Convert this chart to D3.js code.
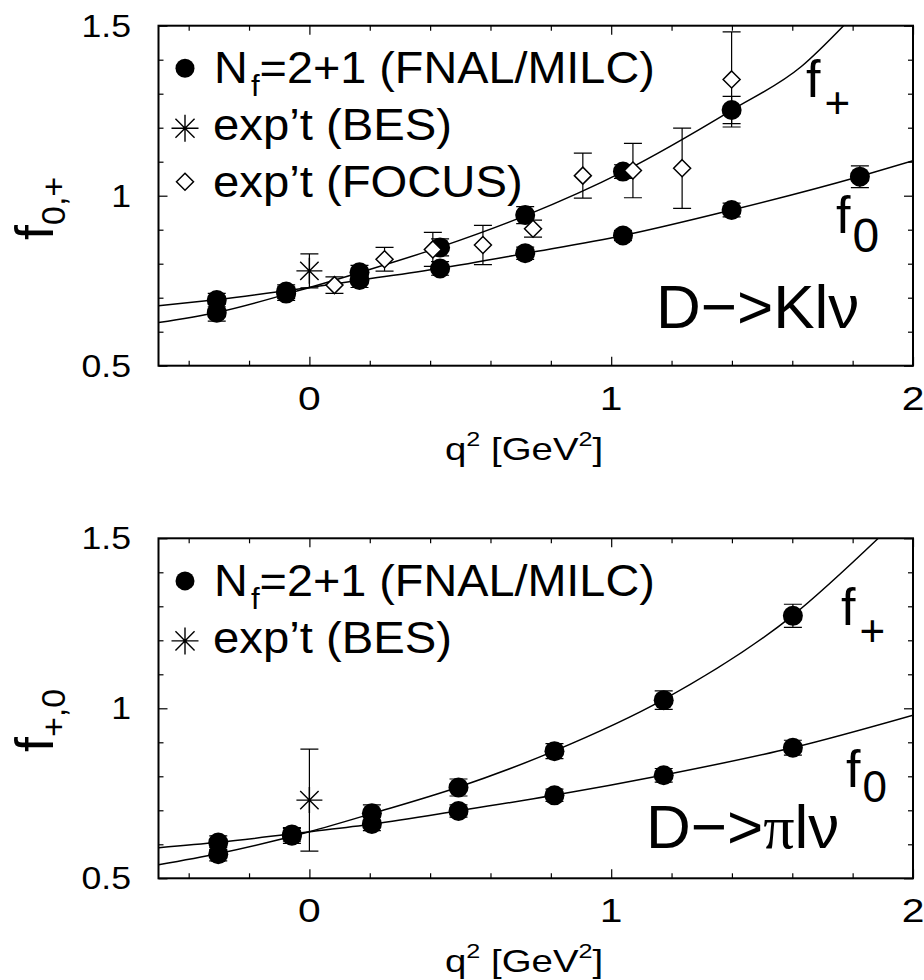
<!DOCTYPE html>
<html>
<head>
<meta charset="utf-8">
<script src="https://cdn.jsdelivr.net/npm/d3@7/dist/d3.min.js"></script>
<style>
body { margin: 0; background: #fff; }
svg text { font-family: "Liberation Sans", Arial, sans-serif; fill: #000; }
</style>
</head>
<body>
<div id="canvas"></div>
<script>
"use strict"

let svgWidth = 924
let svgHeight = 980

/* D -> K l nu : lattice points (FNAL/MILC) */
let kQplus = [-0.307, -0.077, 0.166, 0.433, 0.715, 1.039, 1.399]
let kFplus = [0.656, 0.712, 0.775, 0.848, 0.943, 1.071, 1.252]
let kFplusErr = [0.025, 0.02, 0.02, 0.025, 0.025, 0.02, 0.04]
let kQzero = [-0.307, -0.077, 0.166, 0.433, 0.715, 1.039, 1.399, 1.824]
let kFzero = [0.693, 0.718, 0.752, 0.786, 0.831, 0.883, 0.958, 1.056]
let kFzeroErr = [0.02, 0.02, 0.022, 0.02, 0.018, 0.015, 0.02, 0.032]

/* D -> K l nu : experiment */
let kBesQ = [0]
let kBesF = [0.779]
let kBesErr = [0.05]
let kFocusQ = [0.083, 0.249, 0.409, 0.575, 0.741, 0.906, 1.072, 1.235, 1.399]
let kFocusF = [0.737, 0.813, 0.842, 0.855, 0.903, 1.059, 1.074, 1.081, 1.342]
let kFocusErr = [0.024, 0.035, 0.05, 0.058, 0.025, 0.066, 0.08, 0.118, 0.14]

/* D -> K l nu : fit curves */
let kFitPlusQ = [-0.5, -0.31, 0, 0.17, 0.43, 0.72, 1.04, 1.4, 1.63, 1.77]
let kFitPlus = [0.627, 0.656, 0.73, 0.775, 0.848, 0.943, 1.071, 1.252, 1.38, 1.5]
let kFitZeroQ = [-0.5, -0.31, 0, 0.17, 0.43, 0.72, 1.04, 1.4, 1.82, 2]
let kFitZero = [0.676, 0.694, 0.73, 0.752, 0.786, 0.831, 0.883, 0.958, 1.056, 1.103]

/* D -> pi l nu : lattice points */
let pQ = [-0.302, -0.058, 0.207, 0.494, 0.812, 1.174, 1.602]
let pFplus = [0.571, 0.625, 0.691, 0.767, 0.874, 1.024, 1.272]
let pFplusErr = [0.02, 0.022, 0.025, 0.025, 0.022, 0.027, 0.034]
let pFzero = [0.605, 0.629, 0.66, 0.698, 0.744, 0.803, 0.884]
let pFzeroErr = [0.02, 0.02, 0.02, 0.018, 0.018, 0.02, 0.022]

/* D -> pi l nu : experiment */
let pBesQ = [0]
let pBesF = [0.73]
let pBesErr = [0.15]

/* D -> pi l nu : fit curves */
let pFitPlusQ = [-0.5, -0.3, 0, 0.21, 0.49, 0.81, 1.17, 1.6, 1.885]
let pFitPlus = [0.54, 0.573, 0.637, 0.691, 0.767, 0.874, 1.024, 1.272, 1.5]
let pFitZeroQ = [-0.5, -0.3, 0, 0.21, 0.49, 0.81, 1.17, 1.6, 2]
let pFitZero = [0.59, 0.606, 0.637, 0.66, 0.698, 0.744, 0.803, 0.884, 0.98]

/* axis ticks */
let xMajor = [0, 1, 2]
let xMinor = [-0.4, -0.2, 0.2, 0.4, 0.6, 0.8, 1.2, 1.4, 1.6, 1.8]
let yMajor = [0.5, 1, 1.5]
let yMinor = [0.6, 0.7, 0.8, 0.9, 1.1, 1.2, 1.3, 1.4]
let xTickLabels = ["0", "1", "2"]
let yTickLabels = ["0.5", "1", "1.5"]

let plotLeft = 158.5
let plotRight = 913

let svg = d3.select("#canvas")
    .append("svg")
    .attr("width", svgWidth)
    .attr("height", svgHeight)

let xScale = d3.scaleLinear()
    .domain([-0.5, 2])
    .range([plotLeft, plotRight])

/* text squeezed / stretched sideways like the original figure */
function wideText(parent, x, y, sx, anchor, size) {
    return parent.append("text")
        .attr("transform", "translate(" + x + "," + y + ") scale(" + sx + ",1)")
        .attr("text-anchor", anchor)
        .attr("font-size", size)
}

function starPath(r) {
    let d = r * Math.SQRT1_2
    return "M" + (-r) + ",0L" + r + ",0M0," + (-r) + "L0," + r +
        "M" + (-d) + "," + (-d) + "L" + d + "," + d +
        "M" + (-d) + "," + d + "L" + d + "," + (-d)
}

let diamondPath = "M0,-8.5L8.5,0L0,8.5L-8.5,0Z"

function errorBars(g, q, f, err, yScale) {
    let pts = d3.zip(q, f, err)
    g.selectAll(null)
        .data(pts)
        .join("path")
        .attr("fill", "none")
        .attr("stroke", "#000")
        .attr("stroke-width", 1.2)
        .attr("d", function(d) {
            let x = xScale(d[0])
            let y1 = yScale(d[1] + d[2])
            let y2 = yScale(d[1] - d[2])
            return "M" + x + "," + y1 + "L" + x + "," + y2 +
                "M" + (x - 9) + "," + y1 + "L" + (x + 9) + "," + y1 +
                "M" + (x - 9) + "," + y2 + "L" + (x + 9) + "," + y2
        })
}

function drawPanel(p) {
    let yScale = d3.scaleLinear()
        .domain([0.5, 1.5])
        .range([p.bottom, p.top])

    let g = svg.append("g")

    g.append("clipPath")
        .attr("id", p.id)
        .append("rect")
        .attr("x", plotLeft)
        .attr("y", p.top)
        .attr("width", plotRight - plotLeft)
        .attr("height", p.bottom - p.top)

    /* ticks on all four sides, pointing inward */
    let axes = [
        [d3.axisBottom(xScale), "translate(0," + p.bottom + ")", xMajor, xMinor],
        [d3.axisTop(xScale), "translate(0," + p.top + ")", xMajor, xMinor],
        [d3.axisLeft(yScale), "translate(" + plotLeft + ",0)", yMajor, yMinor],
        [d3.axisRight(yScale), "translate(" + plotRight + ",0)", yMajor, yMinor]
    ]
    axes.forEach(function(a) {
        g.append("g")
            .attr("transform", a[1])
            .call(a[0].tickValues(a[2]).tickSize(-9).tickFormat(""))
        g.append("g")
            .attr("transform", a[1])
            .call(a[0].tickValues(a[3]).tickSize(-5).tickFormat(""))
    })
    g.selectAll(".domain").remove()
    g.selectAll(".tick line").attr("stroke", "#000").attr("stroke-width", 1.2)

    /* tick labels */
    xMajor.forEach(function(v, i) {
        wideText(g, xScale(v), p.bottom + 44, 1.2, "middle", 34).text(xTickLabels[i])
    })
    yMajor.forEach(function(v, i) {
        wideText(g, 131, yScale(v) + 11, 1.15, "end", 31).text(yTickLabels[i])
    })

    /* x axis title */
    let xt = wideText(g, 445, p.bottom + 94, 1.2, "start", 32)
    xt.append("tspan").text("q")
    xt.append("tspan").attr("font-size", 21).attr("dy", -14).text("2")
    xt.append("tspan").attr("dy", 14).text(" [GeV")
    xt.append("tspan").attr("font-size", 21).attr("dy", -14).text("2")
    xt.append("tspan").attr("dy", 14).text("]")

    /* y axis title */
    let yt = g.append("text")
        .attr("transform", "translate(53," + p.yLabelY + ") rotate(-90)")
        .attr("font-size", 54)
    yt.append("tspan").text("f")
    yt.append("tspan").attr("font-size", 34).attr("dy", 12).text(p.yLabelSub)

    /* fit curves */
    let line = d3.line()
        .x(function(d) { return xScale(d[0]) })
        .y(function(d) { return yScale(d[1]) })
        .curve(d3.curveMonotoneX)

    p.fits.forEach(function(c) {
        g.append("path")
            .attr("clip-path", "url(#" + p.id + ")")
            .attr("d", line(d3.zip(c[0], c[1])))
            .attr("fill", "none")
            .attr("stroke", "#000")
            .attr("stroke-width", 1.5)
    })

    /* lattice points */
    p.lattice.forEach(function(s) {
        errorBars(g, s[0], s[1], s[2], yScale)
    })
    p.lattice.forEach(function(s) {
        g.selectAll(null)
            .data(d3.zip(s[0], s[1]))
            .join("circle")
            .attr("cx", function(d) { return xScale(d[0]) })
            .attr("cy", function(d) { return yScale(d[1]) })
            .attr("r", 10)
            .attr("fill", "#000")
    })

    /* BES */
    errorBars(g, p.bes[0], p.bes[1], p.bes[2], yScale)
    g.selectAll(null)
        .data(d3.zip(p.bes[0], p.bes[1]))
        .join("path")
        .attr("d", starPath(13))
        .attr("transform", function(d) { return "translate(" + xScale(d[0]) + "," + yScale(d[1]) + ")" })
        .attr("stroke", "#000")
        .attr("stroke-width", 1.4)
        .attr("fill", "none")

    /* FOCUS */
    if (p.focus) {
        errorBars(g, p.focus[0], p.focus[1], p.focus[2], yScale)
        g.selectAll(null)
            .data(d3.zip(p.focus[0], p.focus[1]))
            .join("path")
            .attr("d", diamondPath)
            .attr("transform", function(d) { return "translate(" + xScale(d[0]) + "," + yScale(d[1]) + ")" })
            .attr("stroke", "#000")
            .attr("stroke-width", 1.5)
            .attr("fill", "#fff")
    }

    /* frame */
    g.append("rect")
        .attr("x", plotLeft)
        .attr("y", p.top)
        .attr("width", plotRight - plotLeft)
        .attr("height", p.bottom - p.top)
        .attr("fill", "none")
        .attr("stroke", "#000")
        .attr("stroke-width", 2)

    /* legend */
    let ly = p.top + 57.6
    g.append("circle").attr("cx", 185).attr("cy", ly - 15).attr("r", 9.5).attr("fill", "#000")
    let t1 = wideText(g, 214, ly, 1.04, "start", 45)
    t1.append("tspan").text("N")
    t1.append("tspan").attr("font-size", 30).attr("dx", 3).attr("dy", 13).text("f")
    t1.append("tspan").attr("dy", -13).text("=2+1 (FNAL/MILC)")

    g.append("path").attr("d", starPath(13.5))
        .attr("transform", "translate(185," + (ly + 45) + ")")
        .attr("stroke", "#000").attr("stroke-width", 1.4).attr("fill", "none")
    wideText(g, 213, ly + 56.7, 1.05, "start", 45).text("exp\u2019t (BES)")

    if (p.focus) {
        g.append("path").attr("d", diamondPath)
            .attr("transform", "translate(185," + (ly + 98.4) + ")")
            .attr("stroke", "#000").attr("stroke-width", 1.5).attr("fill", "#fff")
        wideText(g, 213, ly + 113.4, 1.05, "start", 45).text("exp\u2019t (FOCUS)")
    }

    /* curve labels */
    let fp = g.append("text").attr("x", p.fPlus[0]).attr("y", p.fPlus[1]).attr("font-size", 52)
    fp.append("tspan").text("f")
    fp.append("tspan").attr("font-size", 44).attr("dx", 4).attr("dy", 21).text("+")

    let f0 = g.append("text").attr("x", p.fZero[0]).attr("y", p.fZero[1]).attr("font-size", 52)
    f0.append("tspan").text("f")
    f0.append("tspan").attr("font-size", p.fZero[3]).attr("dx", 2).attr("dy", p.fZero[2]).text("0")

    /* decay channel */
    let dc = g.append("text").attr("x", p.decay[0]).attr("y", p.decay[1]).attr("font-size", 62)
    dc.append("tspan").text("D\u2212>")
    if (p.pion) {
        dc.append("tspan").attr("font-family", "'Liberation Serif', serif").text("\u03c0")
    } else {
        dc.append("tspan").text("K")
    }
    dc.append("tspan").text("l\u03bd")
}

drawPanel({
    id: "clipK",
    top: 25.7,
    bottom: 365.7,
    yLabelY: 240,
    yLabelSub: "0,+",
    fits: [[kFitPlusQ, kFitPlus], [kFitZeroQ, kFitZero]],
    lattice: [[kQplus, kFplus, kFplusErr], [kQzero, kFzero, kFzeroErr]],
    bes: [kBesQ, kBesF, kBesErr],
    focus: [kFocusQ, kFocusF, kFocusErr],
    fPlus: [806, 97],
    fZero: [836, 233, 19, 48],
    decay: [656, 328],
    pion: false
})

drawPanel({
    id: "clipPi",
    top: 538.3,
    bottom: 878.3,
    yLabelY: 752,
    yLabelSub: "+,0",
    fits: [[pFitPlusQ, pFitPlus], [pFitZeroQ, pFitZero]],
    lattice: [[pQ, pFplus, pFplusErr], [pQ, pFzero, pFzeroErr]],
    bes: [pBesQ, pBesF, pBesErr],
    focus: null,
    fPlus: [841, 625],
    fZero: [846, 787, 15, 44],
    decay: [646, 848],
    pion: true
})
</script>
</body>
</html>
